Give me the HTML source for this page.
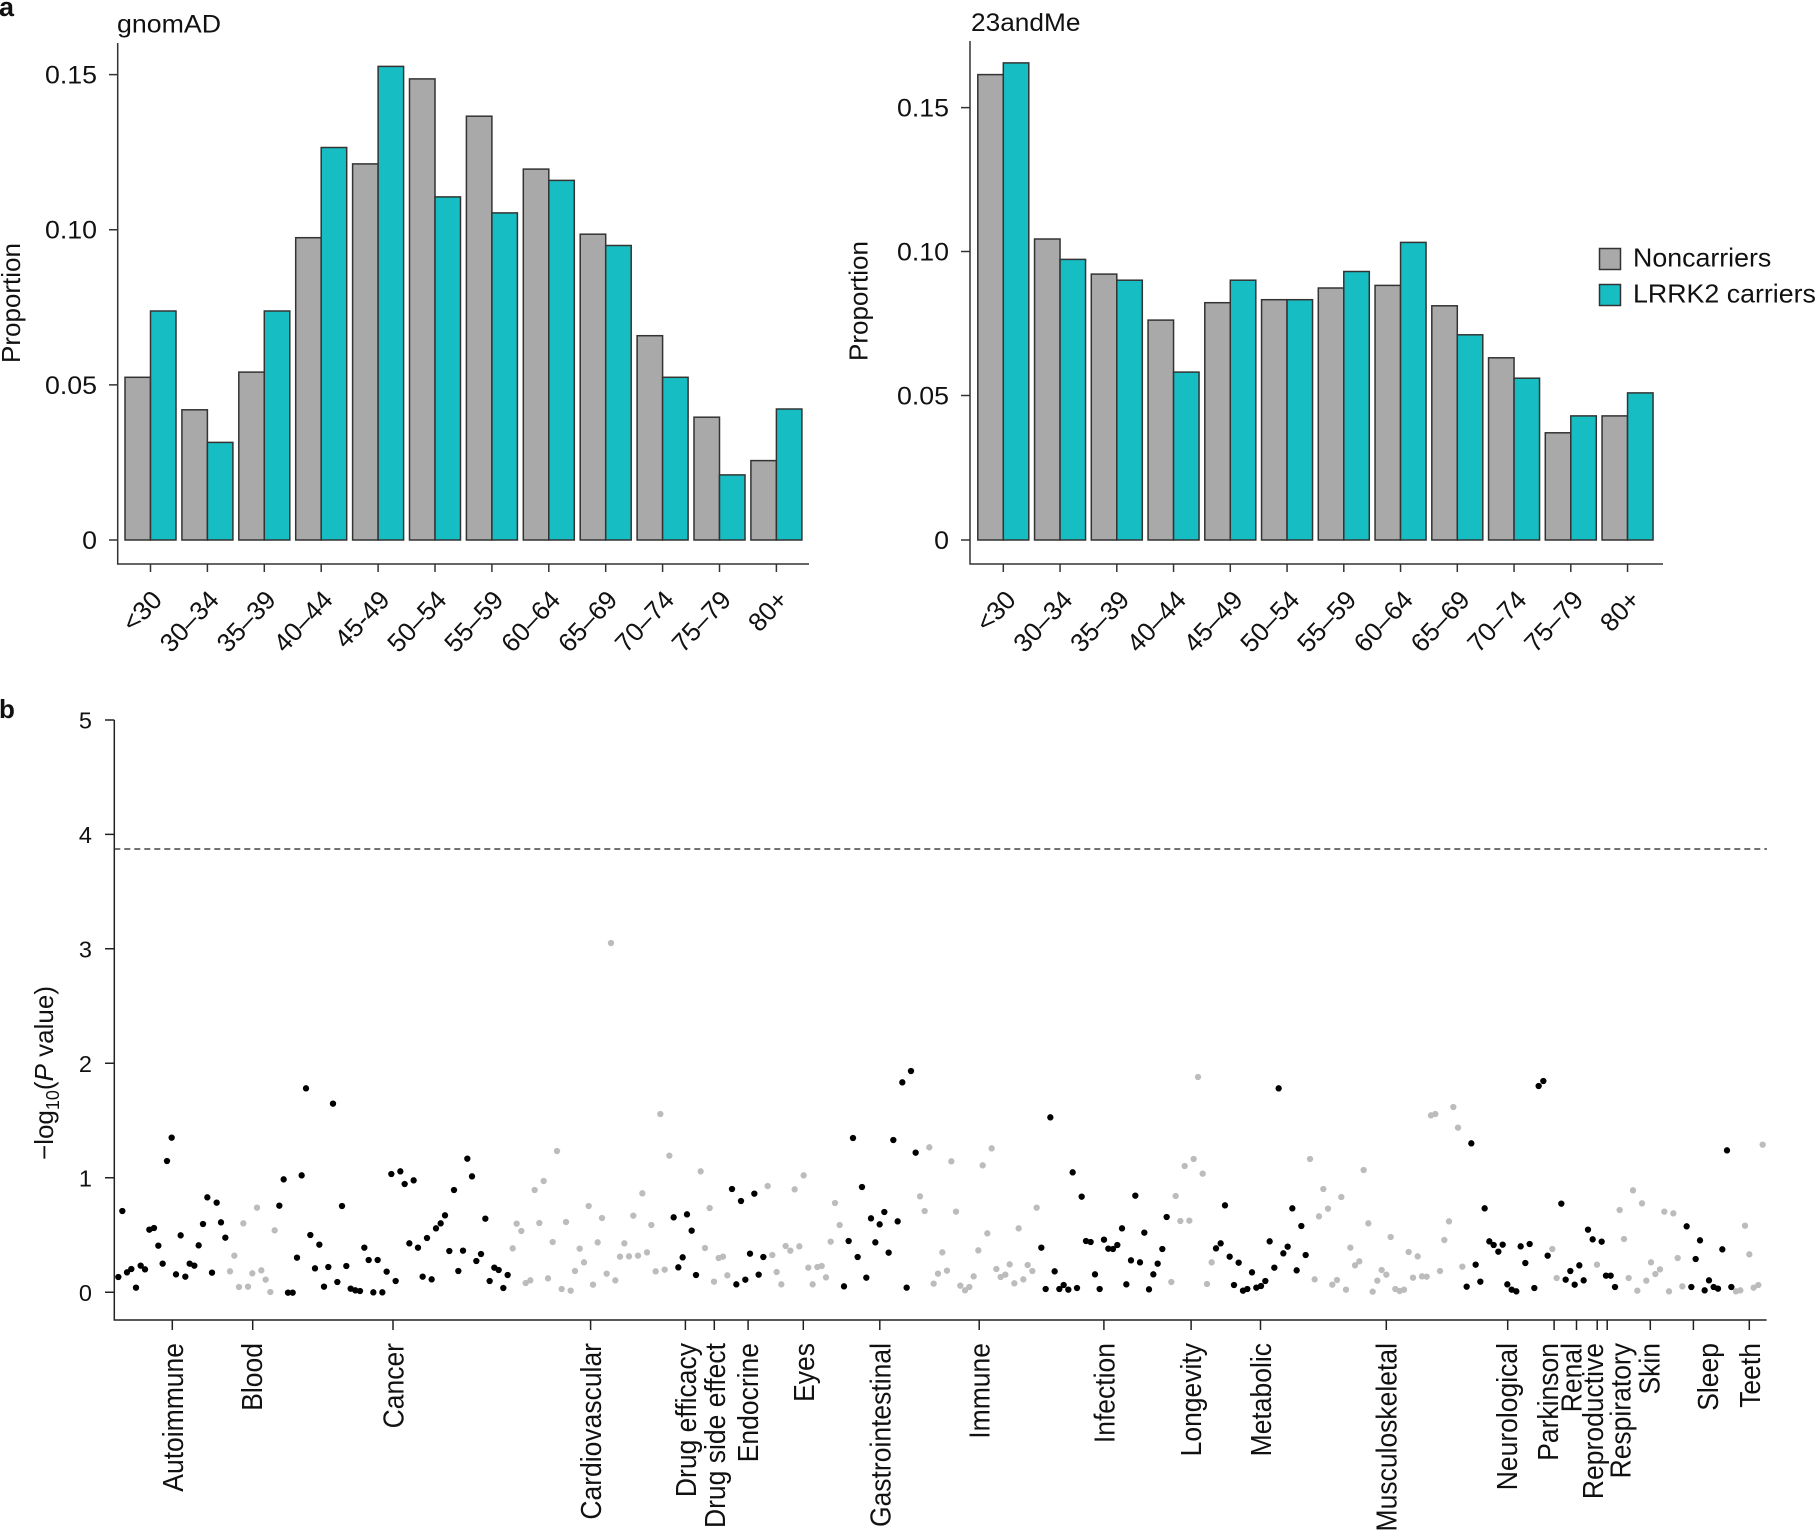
<!DOCTYPE html>
<html><head><meta charset="utf-8"><style>html,body{margin:0;padding:0;background:#fff}svg{display:block}</style></head>
<body>
<svg width="1817" height="1532" viewBox="0 0 1817 1532" xmlns="http://www.w3.org/2000/svg" font-family="'Liberation Sans', Arial, sans-serif" fill="#111">
<rect width="1817" height="1532" fill="#fff"/>

<!-- panel labels -->
<text x="-1" y="16" font-size="27" font-weight="bold">a</text>
<text x="-1" y="718" font-size="26" font-weight="bold">b</text>

<!-- ===== Left panel (gnomAD) ===== -->
<text transform="translate(117,32.5) scale(1.07,1)" font-size="25">gnomAD</text>
<text transform="translate(20,303) rotate(-90)" font-size="26" text-anchor="middle">Proportion</text>
<g stroke="#333" stroke-width="1.5">
<rect x="125" y="377.3" width="25.5" height="162.7" fill="#a9a9a9"/>
<rect x="150.5" y="311" width="25.5" height="229" fill="#16bec4"/>
<rect x="181.9" y="409.8" width="25.5" height="130.2" fill="#a9a9a9"/>
<rect x="207.4" y="442.4" width="25.5" height="97.6" fill="#16bec4"/>
<rect x="238.8" y="372.1" width="25.5" height="167.9" fill="#a9a9a9"/>
<rect x="264.3" y="311" width="25.5" height="229" fill="#16bec4"/>
<rect x="295.7" y="237.7" width="25.5" height="302.3" fill="#a9a9a9"/>
<rect x="321.2" y="147.5" width="25.5" height="392.5" fill="#16bec4"/>
<rect x="352.6" y="163.9" width="25.5" height="376.1" fill="#a9a9a9"/>
<rect x="378.1" y="66.4" width="25.5" height="473.6" fill="#16bec4"/>
<rect x="409.5" y="78.9" width="25.5" height="461.1" fill="#a9a9a9"/>
<rect x="435" y="196.9" width="25.5" height="343.1" fill="#16bec4"/>
<rect x="466.4" y="116.2" width="25.5" height="423.8" fill="#a9a9a9"/>
<rect x="491.9" y="212.9" width="25.5" height="327.1" fill="#16bec4"/>
<rect x="523.3" y="169.1" width="25.5" height="370.9" fill="#a9a9a9"/>
<rect x="548.8" y="180.4" width="25.5" height="359.6" fill="#16bec4"/>
<rect x="580.2" y="234.2" width="25.5" height="305.8" fill="#a9a9a9"/>
<rect x="605.7" y="245.5" width="25.5" height="294.5" fill="#16bec4"/>
<rect x="637.1" y="335.7" width="25.5" height="204.3" fill="#a9a9a9"/>
<rect x="662.6" y="377.3" width="25.5" height="162.7" fill="#16bec4"/>
<rect x="694" y="417.2" width="25.5" height="122.8" fill="#a9a9a9"/>
<rect x="719.5" y="474.9" width="25.5" height="65.1" fill="#16bec4"/>
<rect x="750.9" y="460.6" width="25.5" height="79.4" fill="#a9a9a9"/>
<rect x="776.4" y="409" width="25.5" height="131" fill="#16bec4"/>
</g>
<path d="M117.7 43V564H809M109 74.6h8.7M109 229.7h8.7M109 384.9h8.7M109 540h8.7M150.5 564v8M207.4 564v8M264.3 564v8M321.2 564v8M378.1 564v8M435 564v8M491.9 564v8M548.8 564v8M605.7 564v8M662.6 564v8M719.5 564v8M776.4 564v8" stroke="#333" stroke-width="1.5" fill="none"/>
<g font-size="25" text-anchor="end">
<text transform="translate(97,83.6) scale(1.07,1)">0.15</text>
<text transform="translate(97,238.7) scale(1.07,1)">0.10</text>
<text transform="translate(97,393.9) scale(1.07,1)">0.05</text>
<text transform="translate(97,549) scale(1.07,1)">0</text>
</g>
<g font-size="26" text-anchor="end">
<text transform="translate(163.5,601) rotate(-47)">&lt;30</text>
<text transform="translate(220.4,601) rotate(-47)">30–34</text>
<text transform="translate(277.3,601) rotate(-47)">35–39</text>
<text transform="translate(334.2,601) rotate(-47)">40–44</text>
<text transform="translate(391.1,601) rotate(-47)">45-49</text>
<text transform="translate(448,601) rotate(-47)">50–54</text>
<text transform="translate(504.9,601) rotate(-47)">55–59</text>
<text transform="translate(561.8,601) rotate(-47)">60–64</text>
<text transform="translate(618.7,601) rotate(-47)">65–69</text>
<text transform="translate(675.6,601) rotate(-47)">70–74</text>
<text transform="translate(732.5,601) rotate(-47)">75–79</text>
<text transform="translate(789.4,601) rotate(-47)">80+</text>
</g>

<!-- ===== Right panel (23andMe) ===== -->
<text transform="translate(971,31) scale(1.05,1)" font-size="25">23andMe</text>
<text transform="translate(867.5,301) rotate(-90)" font-size="26" text-anchor="middle">Proportion</text>
<g stroke="#333" stroke-width="1.5">
<rect x="977.8" y="74.6" width="25.5" height="465.4" fill="#a9a9a9"/>
<rect x="1003.3" y="62.9" width="25.5" height="477.1" fill="#16bec4"/>
<rect x="1034.55" y="239" width="25.5" height="301" fill="#a9a9a9"/>
<rect x="1060.05" y="259.4" width="25.5" height="280.6" fill="#16bec4"/>
<rect x="1091.3" y="274.1" width="25.5" height="265.9" fill="#a9a9a9"/>
<rect x="1116.8" y="280.2" width="25.5" height="259.8" fill="#16bec4"/>
<rect x="1148.05" y="320.1" width="25.5" height="219.9" fill="#a9a9a9"/>
<rect x="1173.55" y="372.1" width="25.5" height="167.9" fill="#16bec4"/>
<rect x="1204.8" y="302.7" width="25.5" height="237.3" fill="#a9a9a9"/>
<rect x="1230.3" y="280.2" width="25.5" height="259.8" fill="#16bec4"/>
<rect x="1261.55" y="299.7" width="25.5" height="240.3" fill="#a9a9a9"/>
<rect x="1287.05" y="299.7" width="25.5" height="240.3" fill="#16bec4"/>
<rect x="1318.3" y="288" width="25.5" height="252" fill="#a9a9a9"/>
<rect x="1343.8" y="271.5" width="25.5" height="268.5" fill="#16bec4"/>
<rect x="1375.05" y="285.4" width="25.5" height="254.6" fill="#a9a9a9"/>
<rect x="1400.55" y="242.4" width="25.5" height="297.6" fill="#16bec4"/>
<rect x="1431.8" y="305.8" width="25.5" height="234.2" fill="#a9a9a9"/>
<rect x="1457.3" y="334.8" width="25.5" height="205.2" fill="#16bec4"/>
<rect x="1488.55" y="357.8" width="25.5" height="182.2" fill="#a9a9a9"/>
<rect x="1514.05" y="378.2" width="25.5" height="161.8" fill="#16bec4"/>
<rect x="1545.3" y="432.8" width="25.5" height="107.2" fill="#a9a9a9"/>
<rect x="1570.8" y="415.9" width="25.5" height="124.1" fill="#16bec4"/>
<rect x="1602.05" y="415.9" width="25.5" height="124.1" fill="#a9a9a9"/>
<rect x="1627.55" y="392.9" width="25.5" height="147.1" fill="#16bec4"/>
<rect x="1599.5" y="248.5" width="21" height="21" fill="#a9a9a9"/>
<rect x="1599.5" y="284.5" width="21" height="21" fill="#16bec4"/>
</g>
<path d="M970 41V564H1663M961 107.6h9M961 251.5h9M961 395.5h9M961 540h9M1003.3 564v8M1060.05 564v8M1116.8 564v8M1173.55 564v8M1230.3 564v8M1287.05 564v8M1343.8 564v8M1400.55 564v8M1457.3 564v8M1514.05 564v8M1570.8 564v8M1627.55 564v8" stroke="#333" stroke-width="1.5" fill="none"/>
<g font-size="25" text-anchor="end">
<text transform="translate(949,116.6) scale(1.07,1)">0.15</text>
<text transform="translate(949,260.5) scale(1.07,1)">0.10</text>
<text transform="translate(949,404.5) scale(1.07,1)">0.05</text>
<text transform="translate(949,549) scale(1.07,1)">0</text>
</g>
<g font-size="26" text-anchor="end">
<text transform="translate(1017.3,601) rotate(-47)">&lt;30</text>
<text transform="translate(1074,601) rotate(-47)">30–34</text>
<text transform="translate(1130.8,601) rotate(-47)">35–39</text>
<text transform="translate(1187.5,601) rotate(-47)">40–44</text>
<text transform="translate(1244.3,601) rotate(-47)">45–49</text>
<text transform="translate(1301,601) rotate(-47)">50–54</text>
<text transform="translate(1357.8,601) rotate(-47)">55–59</text>
<text transform="translate(1414.5,601) rotate(-47)">60–64</text>
<text transform="translate(1471.3,601) rotate(-47)">65–69</text>
<text transform="translate(1528,601) rotate(-47)">70–74</text>
<text transform="translate(1584.8,601) rotate(-47)">75–79</text>
<text transform="translate(1641.5,601) rotate(-47)">80+</text>
</g>
<text transform="translate(1633,266.7) scale(1.03,1)" font-size="26">Noncarriers</text>
<text transform="translate(1633,302.7) scale(1.03,1)" font-size="26">LRRK2 carriers</text>

<!-- ===== Panel b ===== -->
<path d="M114.3 849H1767" stroke="#444" stroke-width="1.4" stroke-dasharray="6 4" fill="none"/>
<path d="M114.3 720V1320H1766.6M105 720h9.3M105 834.4h9.3M105 948.8h9.3M105 1063.3h9.3M105 1177.8h9.3M105 1292.3h9.3M172.3 1320v10M252.7 1320v10M393 1320v10M590.6 1320v10M685.4 1320v10M714.3 1320v10M748.1 1320v10M803.3 1320v10M879.8 1320v10M979.2 1320v10M1103.9 1320v10M1191.1 1320v10M1260.5 1320v10M1386.3 1320v10M1507.7 1320v10M1554.1 1320v10M1576.5 1320v10M1597.2 1320v10M1607.2 1320v10M1650.3 1320v10M1693.4 1320v10M1749.3 1320v10" stroke="#222" stroke-width="1.5" fill="none"/>
<g font-size="23.5" text-anchor="end">
<text x="92" y="728.5">5</text>
<text x="92" y="842.9">4</text>
<text x="92" y="957.3">3</text>
<text x="92" y="1071.8">2</text>
<text x="92" y="1186.3">1</text>
<text x="92" y="1300.8">0</text>
</g>
<text transform="translate(53,1073) rotate(-90)" font-size="26" text-anchor="middle">−log<tspan font-size="18" dy="6">10</tspan><tspan dy="-6">(</tspan><tspan font-style="italic">P</tspan> value)</text>

<g font-size="26.5" text-anchor="end">
<text transform="translate(182.8,1343) scale(1.1,1) rotate(-90)">Autoimmune</text>
<text transform="translate(262.1,1343) scale(1.1,1) rotate(-90)">Blood</text>
<text transform="translate(403.5,1343) scale(1.1,1) rotate(-90)">Cancer</text>
<text transform="translate(601.1,1343) scale(1.1,1) rotate(-90)">Cardiovascular</text>
<text transform="translate(695.9,1343) scale(1.1,1) rotate(-90)">Drug efficacy</text>
<text transform="translate(724.8,1343) scale(1.1,1) rotate(-90)">Drug side effect</text>
<text transform="translate(758,1343) scale(1.1,1) rotate(-90)">Endocrine</text>
<text transform="translate(813.8,1343) scale(1.1,1) rotate(-90)">Eyes</text>
<text transform="translate(890.3,1343) scale(1.1,1) rotate(-90)">Gastrointestinal</text>
<text transform="translate(989.5,1343) scale(1.1,1) rotate(-90)">Immune</text>
<text transform="translate(1114.4,1343) scale(1.1,1) rotate(-90)">Infection</text>
<text transform="translate(1201.1,1343) scale(1.1,1) rotate(-90)">Longevity</text>
<text transform="translate(1271,1343) scale(1.1,1) rotate(-90)">Metabolic</text>
<text transform="translate(1396.5,1343) scale(1.1,1) rotate(-90)">Musculoskeletal</text>
<text transform="translate(1517.1,1343) scale(1.1,1) rotate(-90)">Neurological</text>
<text transform="translate(1557.9,1343) scale(1.1,1) rotate(-90)">Parkinson</text>
<text transform="translate(1581.4,1343) scale(1.1,1) rotate(-90)">Renal</text>
<text transform="translate(1603.2,1343) scale(1.1,1) rotate(-90)">Reproductive</text>
<text transform="translate(1630.5,1343) scale(1.1,1) rotate(-90)">Respiratory</text>
<text transform="translate(1659.7,1343) scale(1.1,1) rotate(-90)">Skin</text>
<text transform="translate(1717.8,1343) scale(1.1,1) rotate(-90)">Sleep</text>
<text transform="translate(1759.8,1343) scale(1.1,1) rotate(-90)">Teeth</text>
</g>

<!-- points -->
<g fill="none" stroke-linecap="round" stroke-width="19">
<g transform="translate(100,1040) scale(0.33333)">
<path stroke="#bcbcbc" d="M390 694h0M403 647h0M417 741h0M430 550h0M444 740h0M457 700h0M471 503h0M484 691h0M497 719h0M511 756h0M524 571h0"/>
<path stroke="#000" d="M55 711h0M67 513h0M81 697h0M94 687h0M108 743h0M122 677h0M135 688h0M148 569h0M162 564h0M175 617h0M188 671h0M201 363h0M215 293h0M228 703h0M242 586h0M256 710h0M269 671h0M283 677h0M296 616h0M309 552h0M322 472h0M336 698h0M350 488h0M363 547h0M376 593h0M538 497h0M551 418h0M564 758h0M578 758h0M591 653h0M605 406h0M618 145h0M631 585h0M645 685h0M658 614h0M672 740h0M685 681h0M699 191h0M712 726h0M726 498h0M739 678h0M752 746h0M766 751h0M780 753h0M793 623h0M806 660h0M820 757h0M833 660h0M847 757h0M860 695h0M874 402h0M887 723h0M901 394h0M914 432h0M928 610h0M941 421h0M954 623h0M968 710h0M981 594h0M995 718h0M1008 565h0M1022 550h0M1035 526h0M1048 633h0M1062 450h0M1075 693h0M1089 632h0M1102 356h0M1116 409h0M1129 663h0M1143 642h0M1156 536h0M1169 723h0M1183 683h0M1196 690h0M1210 744h0M1223 705h0"/>
</g>
<g transform="translate(510,1040) scale(0.33333)">
<path stroke="#bcbcbc" d="M8 625h0M20 551h0M34 573h0M47 729h0M61 721h0M74 450h0M88 549h0M101 423h0M114 715h0M128 606h0M141 333h0M155 747h0M168 546h0M182 752h0M195 693h0M209 626h0M222 667h0M236 498h0M249 734h0M263 607h0M276 534h0M290 701h0M303 -291h0M316 721h0M330 650h0M343 610h0M357 649h0M370 527h0M384 647h0M397 460h0M411 637h0M424 555h0M437 694h0M451 222h0M464 689h0M478 347h0M572 394h0M585 624h0M599 504h0M612 725h0M626 654h0M639 650h0M652 706h0M773 438h0M787 645h0M800 696h0M814 733h0M827 618h0M841 632h0M854 448h0M868 619h0M881 406h0M895 683h0M908 733h0M922 681h0M935 678h0M948 712h0M962 605h0M975 489h0M989 555h0M1230 469h0M1244 513h0"/>
<path stroke="#000" d="M491 532h0M505 682h0M518 652h0M531 523h0M545 572h0M558 705h0M666 447h0M679 733h0M693 483h0M706 719h0M720 641h0M733 461h0M746 704h0M760 651h0M1002 739h0M1016 603h0M1029 294h0M1043 651h0M1056 441h0M1069 713h0M1083 535h0M1096 607h0M1109 553h0M1123 516h0M1136 638h0M1150 300h0M1163 544h0M1177 127h0M1190 743h0M1203 93h0M1217 338h0"/>
</g>
<g transform="translate(920,1040) scale(0.33333)">
<path stroke="#bcbcbc" d="M28 322h0M41 731h0M54 701h0M67 637h0M81 692h0M94 364h0M108 515h0M121 737h0M135 751h0M148 741h0M161 709h0M175 631h0M188 376h0M202 580h0M215 325h0M229 687h0M242 711h0M256 704h0M269 673h0M283 730h0M296 565h0M310 718h0M323 675h0M337 693h0M350 503h0M754 726h0M767 468h0M781 543h0M794 378h0M808 542h0M821 357h0M834 111h0M848 401h0M861 732h0M875 667h0M1170 357h0M1184 718h0M1197 529h0M1210 447h0M1224 506h0M1237 734h0M1251 720h0"/>
<path stroke="#000" d="M364 623h0M377 747h0M391 232h0M404 694h0M418 747h0M431 735h0M445 749h0M458 397h0M471 744h0M485 470h0M498 603h0M512 606h0M525 703h0M539 747h0M552 599h0M565 626h0M579 627h0M592 615h0M606 565h0M619 733h0M633 661h0M646 467h0M660 667h0M673 578h0M687 748h0M700 703h0M713 671h0M727 627h0M740 531h0M888 625h0M902 610h0M915 496h0M929 650h0M942 735h0M956 668h0M969 752h0M982 747h0M996 697h0M1009 743h0M1023 738h0M1036 723h0M1049 604h0M1063 683h0M1076 145h0M1090 640h0M1103 620h0M1117 505h0M1130 691h0M1144 558h0M1157 645h0"/>
</g>
<g transform="translate(1330,1040) scale(0.33333)">
<path stroke="#bcbcbc" d="M34 471h0M48 749h0M61 623h0M75 676h0M88 664h0M101 390h0M115 550h0M128 755h0M142 722h0M155 690h0M169 704h0M182 591h0M196 747h0M209 753h0M222 749h0M236 636h0M249 713h0M263 649h0M276 709h0M290 710h0M303 226h0M316 222h0M330 693h0M343 600h0M357 544h0M370 201h0M384 263h0M397 680h0M667 627h0M680 714h0M801 674h0M869 510h0M882 597h0M896 714h0M909 451h0M922 752h0M936 490h0M949 722h0M963 667h0M976 702h0M990 688h0M1003 515h0M1017 754h0M1030 520h0M1043 654h0M1057 739h0M1218 754h0M1231 751h0M1245 557h0M1258 643h0M1271 743h0M1285 735h0M1298 314h0"/>
<path stroke="#000" d="M410 740h0M424 310h0M437 674h0M451 725h0M464 505h0M478 604h0M491 615h0M505 635h0M518 614h0M532 733h0M545 749h0M559 754h0M572 619h0M586 669h0M599 612h0M613 744h0M626 138h0M640 123h0M653 647h0M694 491h0M707 719h0M721 693h0M734 734h0M748 676h0M761 721h0M774 569h0M788 598h0M815 605h0M828 707h0M842 707h0M855 741h0M1070 559h0M1084 741h0M1097 657h0M1110 601h0M1124 751h0M1137 721h0M1151 741h0M1164 746h0M1177 628h0M1191 331h0M1204 741h0"/>
</g>
</g>
</svg>
</body></html>
